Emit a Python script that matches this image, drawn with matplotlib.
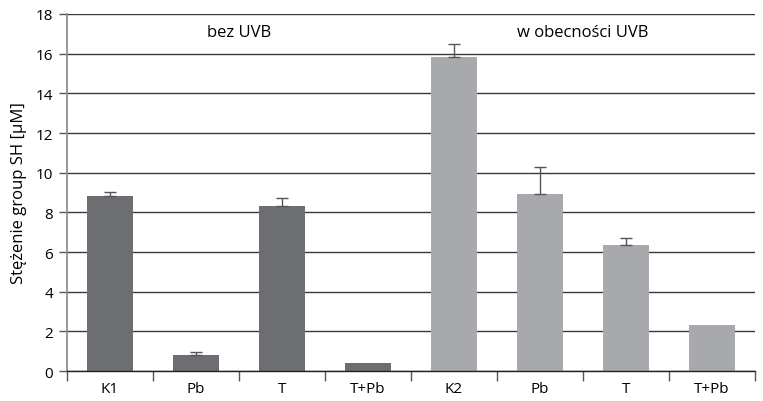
import matplotlib
matplotlib.use("Agg")
import matplotlib.pyplot as plt
import numpy as np

categories = ["K1", "Pb", "T", "T+Pb", "K2", "Pb", "T", "T+Pb"]
values = [8.81, 0.81, 8.30, 0.40, 15.82, 8.93, 6.35, 2.32]
errors = [0.20, 0.13, 0.41, 0.0, 0.65, 1.34, 0.36, 0.0]
groups = [0, 0, 0, 0, 1, 1, 1, 1]
group_labels = ["bez UVB", "w obecności UVB"]
group_colors = ["#6d6e71", "#a7a9ac"]
yticks = [0, 2, 4, 6, 8, 10, 12, 14, 16, 18]

plt.rcParams['font.family'] = ['Open Sans', 'DejaVu Sans']

fig = plt.figure(figsize=(7.63, 4.02), dpi=100)
ax = fig.add_axes([0.0878, 0.0746, 0.9017, 0.8881])

x = np.arange(len(categories))
colors = [group_colors[g] for g in groups]

ax.set_axisbelow(True)
ax.grid(axis='y', color='#3a3a3a', linewidth=1.0)
ax.bar(x, values, width=0.53, color=colors, zorder=2)
for xi, v, e in zip(x, values, errors):
    if e > 0:
        ax.errorbar([xi], [v], yerr=[[0], [e]], fmt='none', ecolor='#555555',
                    elinewidth=1.0, capsize=4, capthick=1.0, zorder=3)

ax.set_xlim(-0.5, 7.5)
ax.set_ylim(0, 18)
ax.set_yticks(yticks)
ax.set_yticklabels([str(t) for t in yticks], fontsize=11)
ax.set_xticks(x)
ax.set_xticklabels(categories, fontsize=11)
ax.tick_params(axis='x', which='major', length=0, pad=7)
ax.set_xticks(np.arange(-0.5, 8.0, 1.0), minor=True)
ax.tick_params(axis='x', which='minor', length=7, width=1, color='#555555', direction='out')
ax.tick_params(axis='y', length=6, width=1, color='#555555', direction='out', pad=4)

for s in ['top', 'right']:
    ax.spines[s].set_visible(False)
ax.spines['left'].set_color('#888888')
ax.spines['left'].set_linewidth(1.2)
ax.spines['bottom'].set_color('#222222')
ax.spines['bottom'].set_linewidth(1.0)

ax.set_ylabel("Stężenie group SH [μM]", fontsize=12, labelpad=6)

for g, lab in enumerate(group_labels):
    idx = [i for i in range(len(groups)) if groups[i] == g]
    cx = (min(idx) + max(idx)) / 2
    ax.text(cx, 17.1, lab, ha='center', va='center', fontsize=12)

fig.savefig("out.png", dpi=100)
